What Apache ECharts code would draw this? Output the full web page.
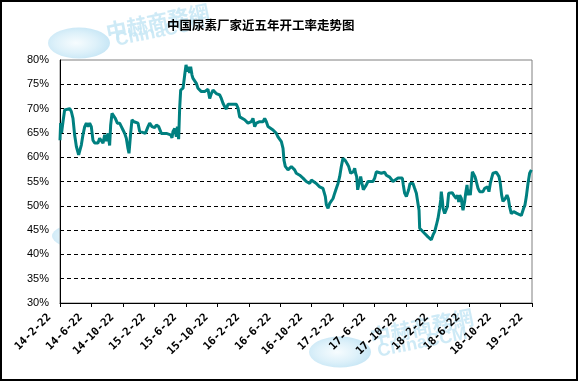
<!DOCTYPE html>
<html>
<head>
<meta charset="utf-8">
<script src="https://cdn.jsdelivr.net/npm/echarts@6/dist/echarts.min.js"></script>
<style>
html,body{margin:0;padding:0;background:#fff;}
#c{width:578px;height:381px;}
</style>
</head>
<body>
<div id="c"></div>
<script>
// Chart title
const chartTitle = '中国尿素厂家近五年开工率走势图';
// X tick labels (every 4 months from 2014-02-22)
const tickLabels = ['14-2-22','14-6-22','14-10-22','15-2-22','15-6-22','15-10-22','16-2-22','16-6-22','16-10-22','17-2-22','17-6-22','17-10-22','18-2-22','18-6-22','18-10-22','19-2-22'];
// Months elapsed since 2014-02-22
const xMonths = [
0,0.08,0.2,0.38,0.59,0.81,1.23,1.44,1.65,1.86,2.08,2.37,2.54,2.71,2.92,3.14,3.35,3.56,3.77,3.98,4.19,4.41,4.62,4.83,5.04,5.25,5.47,5.68,5.89,6.10,6.31,6.44,6.61,6.86,7.03,7.29,7.58,7.80,8.01,8.22,8.43,8.64,8.77,8.98,9.15,9.41,9.92,10.13,10.34,10.85,11.19,11.40,11.69,12.03,12.25,12.54,12.88,13.52,14.07,14.24,14.36,14.58,14.79,14.92,15.08,15.21,15.34,15.64,
15.85,16.02,16.19,16.36,16.48,16.61,16.78,16.91,17.12,17.33,17.54,17.75,17.97,18.18,18.39,18.60,18.81,19.03,19.24,19.45,19.66,19.87,20.30,20.51,20.72,20.93,21.14,21.36,22.42,22.63,22.84,23.05,23.47,23.90,24.11,24.32,24.53,24.75,24.96,25.38,25.59,25.81,26.02,26.23,26.44,26.65,27.08,27.50,27.71,28.14,28.35,28.47,28.64,28.98,29.41,29.62,29.83,30.04,30.47,
30.68,30.89,31.10,31.31,31.53,31.74,31.95,32.16,32.58,32.80,33.01,33.43,33.56,33.73,33.86,34.07,34.28,34.49,34.71,34.92,35.13,35.34,35.55,35.76,35.97,36.10,36.27,36.53,36.69,36.95,37.12,37.29,37.46,37.58,37.71,37.84,37.97,38.09,38.22,38.39,38.56,38.73,38.94,39.15,39.36,39.79,40.00,40.21,40.42,40.85,41.27,41.48,41.91,42.12,42.33,42.54,42.97,43.18,43.52,43.64,43.81,44.03,44.15,44.32,44.49,44.66,
44.87,45.08,45.30,45.51,45.64,45.72,45.93,46.36,46.78,47.20,47.42,47.63,47.84,48.05,48.26,48.39,48.47,48.60,48.69,48.90,49.11,49.24,49.41,49.62,49.87,50.04,50.21,50.38,50.55,50.68,50.81,51.02,51.14,51.23,51.44,51.57,51.74,51.86,51.99,52.16,52.29,52.42,52.58,52.75,52.92,53.14,53.35,53.56,53.77,53.98,54.19,54.36,54.53,54.70,54.87,55.04,55.25,55.47,55.68,55.81,55.97,56.14,56.31,56.44,56.61,56.82,56.99,57.16,57.37,57.50,57.67,57.84,58.01,58.22,58.64,58.77,58.94,59.11,59.28,59.49,59.70,59.92
];
// Operating rate (%)
const rates = [
63.5,67.0,65.0,67.3,69.7,70.0,70.0,69.4,68.0,64.6,62.2,60.5,60.1,62.5,64.6,66.3,67.0,66.3,67.0,66.3,63.5,62.9,63.3,62.9,63.9,64.2,62.9,64.6,63.3,64.9,62.4,66.6,69.0,69.0,68.0,67.0,67.0,66.3,65.6,64.9,63.9,61.8,60.8,64.9,67.7,67.3,67.0,65.3,64.9,64.9,66.3,67.0,66.3,66.1,66.6,66.3,64.9,64.9,64.6,64.0,65.3,65.9,64.2,66.3,63.7,70.0,73.8,74.2,
76.9,79.0,77.6,78.6,77.3,78.6,76.9,76.2,75.9,75.2,74.2,73.8,73.5,73.1,73.5,73.8,74.0,72.1,73.1,73.8,73.8,73.1,72.8,72.1,71.1,70.4,69.9,70.9,70.9,70.1,68.3,68.0,67.7,67.0,66.6,67.3,68.0,66.3,67.0,67.3,67.7,67.3,68.0,67.3,66.3,65.9,65.6,64.9,64.2,63.2,61.8,59.4,58.1,57.4,58.1,58.4,57.4,56.7,56.3,
56.3,55.7,55.4,55.0,55.3,54.6,55.3,55.0,54.6,54.3,53.9,53.6,53.9,51.9,50.2,49.5,50.5,50.9,51.5,52.6,53.6,54.6,56.0,58.1,59.8,59.8,59.3,58.6,58.1,56.7,56.3,57.0,57.7,56.7,56.0,53.3,52.9,52.9,56.0,54.6,53.3,53.6,54.3,55.0,55.3,55.0,55.7,57.0,56.7,56.7,56.9,56.3,55.9,55.7,55.0,55.0,55.7,56.0,55.7,54.3,52.6,51.9,51.9,53.3,54.6,55.0,
54.6,53.6,52.6,52.2,49.1,45.4,45.0,44.3,43.6,43.0,44.0,44.7,46.0,47.4,49.5,51.2,52.9,51.2,49.5,48.4,48.4,49.8,52.6,52.9,52.7,52.2,51.9,51.5,52.2,50.8,52.2,51.5,49.8,49.1,50.9,52.6,54.3,52.2,53.3,52.2,54.6,57.0,56.7,56.0,55.0,53.6,52.9,53.3,52.9,53.6,53.4,53.9,52.9,54.6,55.7,56.7,56.9,56.9,56.7,56.0,54.6,52.2,50.9,50.5,51.5,52.2,51.5,49.8,48.4,48.1,48.8,48.9,48.5,48.1,48.0,48.3,49.5,50.2,51.9,54.6,56.7,57.4
];

const seriesData = xMonths.map((m, i) => [m, rates[i]]);

const chart = echarts.init(document.getElementById('c'), null, {renderer: 'canvas'});

function blob(cx, cy, r, sy) {
  return {type:'circle', z:-10, shape:{cx:0, cy:0, r:r}, x:cx, y:cy, scaleX:1, scaleY:sy,
    style:{fill:{type:'radial', x:0.45, y:0.5, r:0.6, colorStops:[{offset:0,color:'#f4fbfe'},{offset:0.55,color:'#d2ecf8'},{offset:1,color:'#aedbf1'}]}, opacity:0.75}};
}
function watermark(cx, cy, tx, ty, cx2, cy2) {
  return [
    blob(cx, cy, 31, 0.5),
    {type:'text', z:-10, x:tx, y:ty, rotation:0.2,
     style:{text:'中赫商務網', fill:'#c6e6f5', font:'bold 21px "Noto Sans CJK TC"', opacity:0.85}},
    {type:'text', z:-10, x:cx2, y:cy2, rotation:0.2,
     style:{text:'ChinaCCM', fill:'#c6e6f5', font:'bold 18px "Liberation Sans"', opacity:0.85}}
  ];
}

const option = {
  backgroundColor: '#ffffff',
  animation: false,
  title: {
    text: chartTitle,
    left: 162,
    top: 14,
    textStyle: {fontSize: 12.5, fontWeight: 'bold', color: '#000', fontFamily: '"Noto Sans CJK SC", sans-serif'}
  },
  graphic: [
    ...watermark(79, 43, 104, 22, 114, 32),
    ...watermark(340, 352, 368, 327, 376, 343),
    blob(82, 236, 30, 0.42),
    {type:'rect', z:100, shape:{x:1, y:1, width:576, height:379}, style:{fill:'none', stroke:'#000', lineWidth:2}}
  ],
  grid: {
    left: 60, right: 46, top: 60, bottom: 78,
    show: true, backgroundColor: '#ffffff', borderColor: '#808080', borderWidth: 1
  },
  xAxis: {
    type: 'value', min: 0, max: 60, interval: 4,
    axisLine: {show: true, onZero: false, lineStyle: {color: '#000', width: 1}},
    axisTick: {show: true, length: 4, lineStyle: {color: '#000'}},
    splitLine: {show: false},
    axisLabel: {
      rotate: 45, margin: 2, fontSize: 11, fontWeight: 'bold', color: '#000', fontFamily: '"DejaVu Sans Mono", monospace',
      padding: [0, 15, 0, 0],
      formatter: v => tickLabels[Math.round(v / 4)]
    }
  },
  yAxis: {
    type: 'value', min: 30, max: 80, interval: 5,
    axisLine: {show: true, lineStyle: {color: '#000', width: 1}},
    axisTick: {show: false},
    splitLine: {show: true, showMaxLine: false, lineStyle: {color: '#000', type: [4, 3], width: 1}},
    axisLabel: {margin: 11, fontSize: 11, color: '#000', fontFamily: '"Liberation Sans", Arial', formatter: '{value}%'}
  },
  series: [{
    type: 'line',
    data: seriesData,
    showSymbol: false,
    lineStyle: {color: '#008080', width: 3},
    itemStyle: {color: '#008080'}
  }]
};
chart.setOption(option);
</script>
</body>
</html>
